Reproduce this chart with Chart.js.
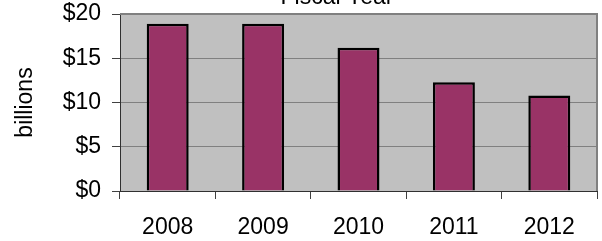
<!DOCTYPE html>
<html>
<head>
<meta charset="utf-8">
<script src="https://cdn.jsdelivr.net/npm/chart.js@4/dist/chart.umd.min.js"></script>
<style>
  html, body { margin: 0; padding: 0; background: #ffffff; }
  #wrap { width: 602px; height: 241px; position: relative; }
</style>
</head>
<body>
<div id="wrap"><canvas id="c" width="602" height="241"></canvas></div>
<script>
const categories = ['2008', '2009', '2010', '2011', '2012'];
const values = [18.9, 18.9, 16.2, 12.3, 10.8];
const yTicks = [0, 5, 10, 15, 20];
const chartTitle = 'Fiscal Year';
const yTitle = 'billions';

const FONT = "'Liberation Sans', Arial, sans-serif";

const plotBg = {
  id: 'plotBg',
  beforeDraw(chart) {
    const { ctx, chartArea: a } = chart;
    ctx.save();
    ctx.fillStyle = '#C0C0C0';
    ctx.fillRect(a.left, a.top, a.right - a.left, a.bottom - a.top);
    ctx.restore();
  },
  afterDatasetsDraw(chart) {
    const { ctx, chartArea: a } = chart;
    ctx.save();
    ctx.strokeStyle = '#808080';
    ctx.lineWidth = 2;
    ctx.beginPath();
    ctx.moveTo(a.left, a.top);
    ctx.lineTo(a.right, a.top);
    ctx.lineTo(a.right, a.bottom);
    ctx.stroke();
    ctx.restore();
  }
};

const topTitle = {
  id: 'topTitle',
  afterDraw(chart) {
    const { ctx } = chart;
    ctx.save();
    ctx.fillStyle = '#000';
    ctx.font = '23px ' + FONT;
    ctx.textAlign = 'center';
    ctx.textBaseline = 'alphabetic';
    ctx.fillText(chartTitle, 337, 4);
    ctx.restore();
  }
};

new Chart(document.getElementById('c'), {
  type: 'bar',
  data: {
    labels: categories,
    datasets: [{
      data: values,
      backgroundColor: '#993366',
      borderColor: '#000000',
      borderWidth: 2.5,
      barPercentage: 0.44,
      categoryPercentage: 1.0
    }]
  },
  options: {
    responsive: false,
    animation: false,
    layout: { padding: { top: 14, right: 5, left: 0, bottom: 0 } },
    plugins: { legend: { display: false }, tooltip: { enabled: false }, title: { display: false } },
    scales: {
      x: {
        offset: true,
        grid: { display: true, offset: true, drawOnChartArea: false, tickLength: 8, color: '#404040', tickColor: '#404040', lineWidth: 1 },
        border: { display: true, color: '#303030', width: 1 },
        ticks: { color: '#000', font: { family: FONT, size: 23 }, padding: 15, maxRotation: 0 },
        afterFit(s) { s.height = 50; s.paddingLeft = 0; s.paddingRight = 0; }
      },
      y: {
        min: 0, max: 20,
        afterBuildTicks(s) { s.ticks = yTicks.map(v => ({ value: v })); },
        grid: { color: '#808080', tickColor: '#404040', tickLength: 8, lineWidth: 1 },
        border: { display: true, color: '#303030', width: 1 },
        ticks: { color: '#000', font: { family: FONT, size: 23 }, padding: 11, callback: v => '$' + v },
        title: { display: true, text: yTitle, color: '#000', font: { family: FONT, size: 23 }, padding: { top: 12, bottom: 0 } },
        afterFit(s) { s.width = 120; s.paddingTop = 0; s.paddingBottom = 0; }
      }
    }
  },
  plugins: [plotBg, topTitle]
});
</script>
</body>
</html>
